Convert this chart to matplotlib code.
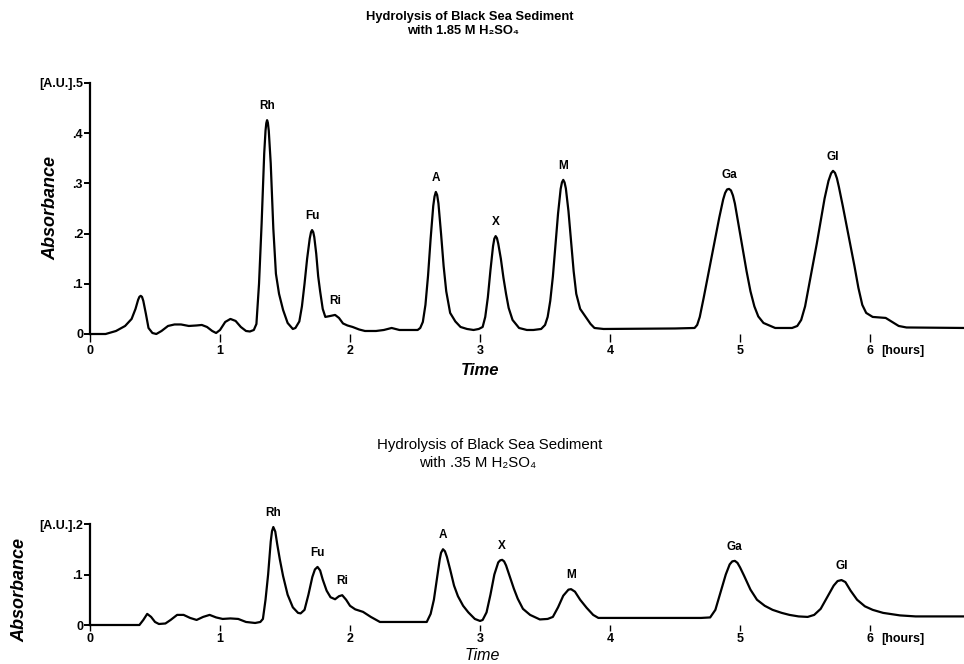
import numpy as np
import matplotlib
matplotlib.use("Agg")
import matplotlib.pyplot as plt

plt.rcParams['font.family'] = ['Liberation Sans', 'DejaVu Sans']

# ---------- chromatogram traces: (time [hours], absorbance [A.U.]) ----------
trace_185 = [
    (0.00, 0.000), (0.12, 0.000), (0.20, 0.006), (0.27, 0.016), (0.32, 0.030), (0.35, 0.050),
    (0.37, 0.068), (0.38, 0.074), (0.39, 0.076), (0.40, 0.074), (0.41, 0.066), (0.43, 0.040),
    (0.45, 0.012), (0.48, 0.002), (0.51, 0.000), (0.55, 0.006), (0.60, 0.016), (0.65, 0.019),
    (0.70, 0.019), (0.76, 0.016), (0.82, 0.017), (0.86, 0.018), (0.90, 0.014), (0.94, 0.006),
    (0.97, 0.002), (1.00, 0.008), (1.04, 0.024), (1.08, 0.030), (1.12, 0.026), (1.16, 0.014),
    (1.20, 0.006), (1.23, 0.005), (1.26, 0.008),
    # Rh
    (1.28, 0.020), (1.30, 0.100), (1.32, 0.220), (1.34, 0.360), (1.35, 0.405), (1.356, 0.420),
    (1.362, 0.426), (1.368, 0.421), (1.375, 0.405), (1.39, 0.340), (1.41, 0.210), (1.43, 0.120),
    (1.454, 0.080), (1.485, 0.048), (1.52, 0.022), (1.56, 0.010),
    # Fu, Ri
    (1.58, 0.012), (1.61, 0.025), (1.63, 0.055), (1.65, 0.100), (1.67, 0.150), (1.69, 0.190),
    (1.70, 0.203), (1.708, 0.207), (1.717, 0.203), (1.725, 0.193), (1.74, 0.160), (1.755, 0.115),
    (1.77, 0.085), (1.79, 0.050), (1.81, 0.034), (1.85, 0.036), (1.885, 0.038), (1.915, 0.032),
    (1.946, 0.021), (1.98, 0.017), (2.02, 0.014), (2.07, 0.009), (2.115, 0.006), (2.20, 0.006),
    (2.26, 0.008), (2.32, 0.012), (2.38, 0.008), (2.45, 0.008), (2.52, 0.008),
    # A
    (2.54, 0.012), (2.56, 0.024), (2.58, 0.058), (2.60, 0.116), (2.62, 0.190), (2.64, 0.255),
    (2.65, 0.274), (2.66, 0.283), (2.67, 0.277), (2.68, 0.260), (2.70, 0.200), (2.72, 0.135),
    (2.74, 0.085), (2.77, 0.042), (2.81, 0.025), (2.85, 0.014), (2.90, 0.010), (2.95, 0.008),
    # X
    (2.99, 0.010), (3.02, 0.014), (3.04, 0.034), (3.06, 0.073), (3.08, 0.127), (3.10, 0.175),
    (3.11, 0.190), (3.12, 0.195), (3.13, 0.191), (3.14, 0.180), (3.16, 0.150), (3.18, 0.112),
    (3.20, 0.080), (3.22, 0.052), (3.25, 0.028), (3.30, 0.012), (3.36, 0.008), (3.41, 0.008),
    # M
    (3.47, 0.010), (3.50, 0.018), (3.52, 0.034), (3.54, 0.066), (3.56, 0.114), (3.58, 0.177),
    (3.60, 0.240), (3.62, 0.289), (3.63, 0.302), (3.64, 0.307), (3.65, 0.302), (3.66, 0.290),
    (3.68, 0.245), (3.70, 0.185), (3.72, 0.125), (3.74, 0.080), (3.77, 0.050), (3.81, 0.035),
    (3.85, 0.020), (3.88, 0.012), (3.95, 0.010), (4.50, 0.011),
    # Ga
    (4.65, 0.012), (4.67, 0.018), (4.69, 0.034), (4.72, 0.072), (4.75, 0.112), (4.78, 0.152),
    (4.81, 0.192), (4.84, 0.232), (4.87, 0.268), (4.885, 0.281), (4.90, 0.288), (4.915, 0.289),
    (4.93, 0.286), (4.945, 0.276), (4.96, 0.260), (4.99, 0.215), (5.02, 0.170), (5.05, 0.125),
    (5.08, 0.085), (5.11, 0.055), (5.14, 0.035), (5.18, 0.022), (5.27, 0.012),
    # Gl
    (5.40, 0.012), (5.44, 0.016), (5.47, 0.028), (5.50, 0.055), (5.53, 0.097), (5.56, 0.140),
    (5.59, 0.180), (5.62, 0.225), (5.65, 0.270), (5.68, 0.305), (5.70, 0.320), (5.715, 0.325),
    (5.73, 0.321), (5.745, 0.310), (5.76, 0.293), (5.79, 0.255), (5.82, 0.215), (5.85, 0.175),
    (5.88, 0.135), (5.91, 0.092), (5.94, 0.058), (5.97, 0.042), (6.02, 0.034), (6.07, 0.033),
    (6.12, 0.032), (6.17, 0.024), (6.22, 0.016), (6.28, 0.013), (6.73, 0.012),
]

trace_035 = [
    (0.00, 0.000), (0.38, 0.000), (0.41, 0.010), (0.44, 0.022), (0.47, 0.016), (0.50, 0.006),
    (0.53, 0.002), (0.58, 0.003), (0.62, 0.010), (0.67, 0.020), (0.72, 0.020), (0.77, 0.014),
    (0.82, 0.010), (0.87, 0.016), (0.92, 0.020), (0.97, 0.015), (1.02, 0.012), (1.08, 0.013),
    (1.14, 0.012), (1.20, 0.006), (1.27, 0.004), (1.31, 0.006),
    # Rh
    (1.33, 0.012), (1.35, 0.050), (1.37, 0.100), (1.39, 0.165), (1.40, 0.186), (1.41, 0.194),
    (1.425, 0.185), (1.44, 0.160), (1.46, 0.130), (1.485, 0.097), (1.52, 0.060), (1.56, 0.035),
    (1.60, 0.024), (1.62, 0.023),
    # Fu, Ri
    (1.65, 0.030), (1.68, 0.060), (1.71, 0.095), (1.73, 0.110), (1.75, 0.115), (1.77, 0.108),
    (1.79, 0.090), (1.82, 0.068), (1.85, 0.055), (1.885, 0.051), (1.915, 0.057), (1.94, 0.059),
    (1.97, 0.050), (2.00, 0.038), (2.04, 0.031), (2.10, 0.026), (2.16, 0.016), (2.23, 0.006),
    # A
    (2.59, 0.006), (2.62, 0.022), (2.645, 0.050), (2.67, 0.095), (2.69, 0.130), (2.70, 0.143),
    (2.715, 0.150), (2.73, 0.146), (2.745, 0.135), (2.77, 0.110), (2.80, 0.078), (2.83, 0.057),
    (2.87, 0.038), (2.91, 0.025), (2.96, 0.012), (3.00, 0.008),
    # X
    (3.02, 0.010), (3.05, 0.025), (3.08, 0.060), (3.11, 0.100), (3.14, 0.124), (3.155, 0.128),
    (3.17, 0.129), (3.185, 0.126), (3.20, 0.118), (3.23, 0.095), (3.26, 0.072), (3.29, 0.052),
    (3.33, 0.032), (3.385, 0.020), (3.46, 0.011), (3.52, 0.012),
    # M
    (3.56, 0.016), (3.60, 0.035), (3.64, 0.058), (3.68, 0.070), (3.70, 0.071), (3.73, 0.066),
    (3.77, 0.050), (3.82, 0.034), (3.87, 0.020), (3.91, 0.014), (4.00, 0.014), (4.70, 0.014),
    # Ga
    (4.77, 0.015), (4.81, 0.030), (4.85, 0.065), (4.89, 0.100), (4.92, 0.120), (4.94, 0.126),
    (4.96, 0.127), (4.98, 0.123), (5.00, 0.114), (5.03, 0.098), (5.08, 0.070), (5.13, 0.050),
    (5.19, 0.038), (5.25, 0.030), (5.32, 0.024), (5.38, 0.020), (5.45, 0.017), (5.52, 0.016),
    # Gl
    (5.57, 0.020), (5.62, 0.032), (5.67, 0.055), (5.72, 0.078), (5.75, 0.087), (5.78, 0.089),
    (5.81, 0.085), (5.85, 0.068), (5.90, 0.050), (5.96, 0.037), (6.02, 0.030), (6.10, 0.024),
    (6.23, 0.019), (6.35, 0.017), (6.73, 0.017),
]

# peak names and their approximate retention times
peak_names = ["Rh", "Fu", "Ri", "A", "X", "M", "Ga", "Gl"]
peaks_185 = [1.36, 1.71, 1.88, 2.66, 3.12, 3.64, 4.92, 5.71]
peaks_035 = [1.41, 1.75, 1.94, 2.72, 3.17, 3.70, 4.96, 5.78]

x_ticks = [0, 1, 2, 3, 4, 5, 6]
yticks_185 = [0, 0.1, 0.2, 0.3, 0.4, 0.5]
ylabels_185 = ["0", ".1", ".2", ".3", ".4", "[A.U.].5"]
yticks_035 = [0, 0.1, 0.2]
ylabels_035 = ["0", ".1", "[A.U.].2"]

T_MAX = 6.73


def draw_panel(ax, trace, peaks, yticks, ylabels, ytop, xtick_len, xtick_pad):
    t, a = np.array(trace).T
    ax.plot(t, a, color="black", lw=1.6, solid_joinstyle="round", clip_on=False)
    ax.set_xlim(0, T_MAX)
    ax.set_ylim(0, ytop)

    for side in ("top", "right", "bottom"):
        ax.spines[side].set_visible(False)
    ax.spines["left"].set_linewidth(1.6)

    ax.set_yticks(yticks)
    ax.set_yticklabels(ylabels, fontsize=9, fontweight="bold")
    ax.set_xticks(x_ticks)
    ax.set_xticklabels([str(v) for v in x_ticks], fontsize=9, fontweight="bold")
    ax.tick_params(axis="y", direction="out", length=4, width=1.4, pad=1)
    ax.tick_params(axis="x", direction="out", length=xtick_len, width=1.0, pad=xtick_pad)
    ax.annotate("[hours]", xy=(6.25, 0), xycoords=("data", "axes fraction"),
                xytext=(0, -(xtick_len + xtick_pad)), textcoords="offset points",
                ha="center", va="top", fontsize=9, fontweight="bold")

    # label each peak just above its local maximum
    for name, tp in zip(peak_names, peaks):
        win = (t > tp - 0.05) & (t < tp + 0.05)
        i = np.argmax(a[win])
        ax.annotate(name, (t[win][i], a[win][i]), xytext=(0, 10), textcoords="offset points",
                    ha="center", va="center", fontsize=8.5, fontweight="bold")

    ax.set_ylabel("Absorbance", fontsize=13, fontstyle="italic", fontweight="bold")


fig = plt.figure(figsize=(9.64, 6.64), dpi=100)

ax1 = fig.add_axes([90 / 964, 1 - 334 / 664, 875 / 964, 251 / 664])
draw_panel(ax1, trace_185, peaks_185, yticks_185, ylabels_185, 0.5, 6, 2)
ax1.yaxis.set_label_coords(-0.035, 0.5)

ax2 = fig.add_axes([90 / 964, 1 - 625 / 664, 875 / 964, 101 / 664])
draw_panel(ax2, trace_035, peaks_035, yticks_035, ylabels_035, 0.2, 4.5, 1)
ax2.yaxis.set_label_coords(-0.07, 0.35)

fig.text(480 / 964, 1 - 370 / 664, "Time", ha="center", va="center",
         fontsize=12, fontstyle="italic", fontweight="bold")
fig.text(482 / 964, 1 - 656 / 664, "Time", ha="center", va="center",
         fontsize=11.5, fontstyle="italic")

fig.text(470 / 964, 1 - 17 / 664, "Hydrolysis of Black Sea Sediment", ha="center",
         va="center", fontsize=9.3, fontweight="bold")
fig.text(463 / 964, 1 - 31 / 664, "with 1.85 M H₂SO₄", ha="center", va="center",
         fontsize=9.3, fontweight="bold")
fig.text(490 / 964, 1 - 445 / 664, "Hydrolysis of Black Sea Sediment", ha="center",
         va="center", fontsize=10.8)
fig.text(478 / 964, 1 - 463 / 664, "with .35 M H₂SO₄", ha="center", va="center",
         fontsize=10.8)

fig.savefig("out.png", dpi=100, facecolor="white")
